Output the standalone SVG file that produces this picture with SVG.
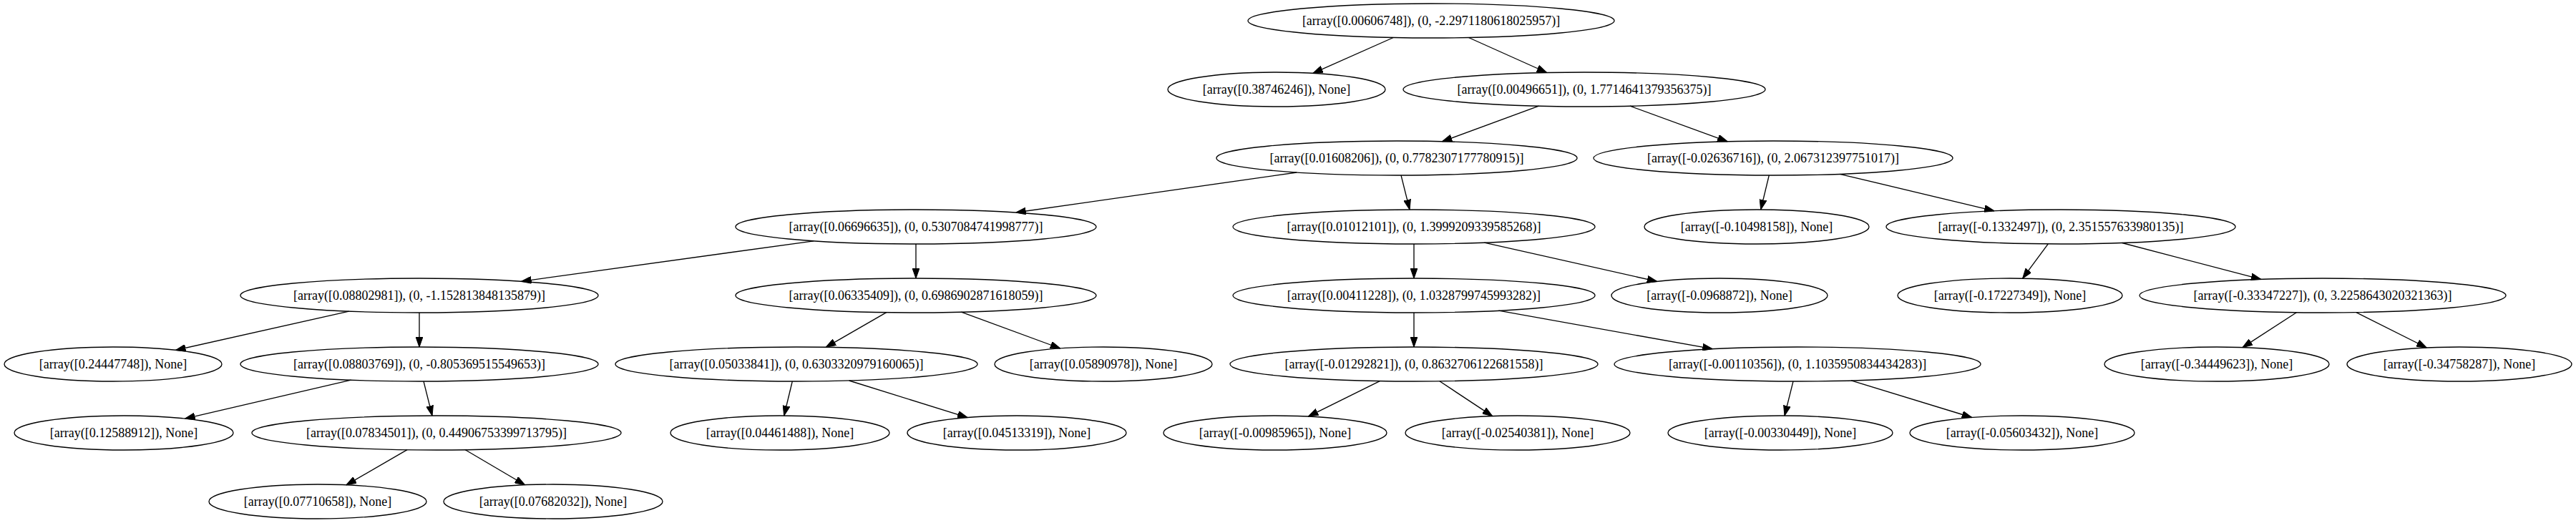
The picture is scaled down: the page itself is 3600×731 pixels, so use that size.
<svg xmlns="http://www.w3.org/2000/svg" width="3600" height="731" viewBox="0 0 3600 731">
<style>
.node ellipse{fill:none;stroke:#000;stroke-width:1.33}
.node text{font-family:"Liberation Serif","Times New Roman",serif;font-size:18px;text-anchor:middle;fill:#000}
.edges line{stroke:#000;stroke-width:1.33;marker-end:url(#arr)}
</style>
<defs>
<marker id="arr" markerUnits="userSpaceOnUse" markerWidth="14" markerHeight="10" viewBox="0 0 13.33 9.33" refX="13.33" refY="4.67" orient="auto">
<path d="M0,0 L13.33,4.67 L0,9.33 z" fill="#000" stroke="#000" stroke-width="1"/>
</marker>
</defs>
<rect width="3600" height="731" fill="#fff"/>
<g id="edges" class="edges">
<line x1="1947.2" y1="52.5" x2="1834.9" y2="102.4"/>
<line x1="2052.4" y1="52.5" x2="2161.7" y2="101.5"/>
<line x1="2150.6" y1="148.2" x2="2015.4" y2="197.8"/>
<line x1="2277.9" y1="148.2" x2="2414.2" y2="197.8"/>
<line x1="1812.2" y1="241.0" x2="1419.8" y2="297.0"/>
<line x1="1958.0" y1="245.0" x2="1970.0" y2="293.0"/>
<line x1="2472.3" y1="245.0" x2="2460.7" y2="293.0"/>
<line x1="2571.3" y1="243.3" x2="2787.1" y2="294.8"/>
<line x1="1137.1" y1="336.8" x2="728.5" y2="393.3"/>
<line x1="1280" y1="341" x2="1280" y2="389"/>
<line x1="1976" y1="341" x2="1976" y2="389"/>
<line x1="2074.4" y1="339.1" x2="2315.8" y2="393.4"/>
<line x1="2862.3" y1="340.9" x2="2826.6" y2="389.2"/>
<line x1="2965.7" y1="339.5" x2="3159.8" y2="390.4"/>
<line x1="487.6" y1="435.1" x2="245.5" y2="489.4"/>
<line x1="586" y1="437" x2="586" y2="485"/>
<line x1="1238.8" y1="436.7" x2="1154.2" y2="485.3"/>
<line x1="1343.4" y1="436.2" x2="1481.8" y2="487.0"/>
<line x1="1976" y1="437" x2="1976" y2="485"/>
<line x1="2094.4" y1="434.2" x2="2393.3" y2="487.7"/>
<line x1="3209.4" y1="436.8" x2="3134.0" y2="485.6"/>
<line x1="3292.9" y1="436.6" x2="3391.3" y2="486.0"/>
<line x1="490.6" y1="531.2" x2="258.6" y2="585.1"/>
<line x1="592.0" y1="533.0" x2="604.0" y2="581.0"/>
<line x1="1107.3" y1="533.0" x2="1095.7" y2="581.0"/>
<line x1="1186.7" y1="532.0" x2="1352.2" y2="583.6"/>
<line x1="1928.3" y1="532.6" x2="1828.3" y2="582.1"/>
<line x1="2011.9" y1="532.8" x2="2085.7" y2="581.6"/>
<line x1="2506.0" y1="533.0" x2="2494.0" y2="581.0"/>
<line x1="2587.1" y1="531.9" x2="2755.8" y2="583.5"/>
<line x1="569.0" y1="628.7" x2="484.0" y2="677.8"/>
<line x1="650.3" y1="628.7" x2="733.6" y2="677.8"/>
</g>
<g id="n0" class="node"><ellipse cx="2000" cy="29" rx="256" ry="24"/><text x="2000" y="35">[array([0.00606748]), (0, -2.2971180618025957)]</text></g>
<g id="n1" class="node"><ellipse cx="1784" cy="125" rx="152" ry="24"/><text x="1784" y="131">[array([0.38746246]), None]</text></g>
<g id="n2" class="node"><ellipse cx="2214" cy="125" rx="253" ry="24"/><text x="2214" y="131">[array([0.00496651]), (0, 1.7714641379356375)]</text></g>
<g id="n3" class="node"><ellipse cx="1952" cy="221" rx="252" ry="24"/><text x="1952" y="227">[array([0.01608206]), (0, 0.7782307177780915)]</text></g>
<g id="n4" class="node"><ellipse cx="2478" cy="221" rx="251" ry="24"/><text x="2478" y="227">[array([-0.02636716]), (0, 2.067312397751017)]</text></g>
<g id="n5" class="node"><ellipse cx="1280" cy="317" rx="252" ry="24"/><text x="1280" y="323">[array([0.06696635]), (0, 0.5307084741998777)]</text></g>
<g id="n6" class="node"><ellipse cx="1976" cy="317" rx="253" ry="24"/><text x="1976" y="323">[array([0.01012101]), (0, 1.3999209339585268)]</text></g>
<g id="n7" class="node"><ellipse cx="2455" cy="317" rx="157" ry="24"/><text x="2455" y="323">[array([-0.10498158]), None]</text></g>
<g id="n8" class="node"><ellipse cx="2880" cy="317" rx="244" ry="24"/><text x="2880" y="323">[array([-0.1332497]), (0, 2.351557633980135)]</text></g>
<g id="n9" class="node"><ellipse cx="586" cy="413" rx="250" ry="24"/><text x="586" y="419">[array([0.08802981]), (0, -1.152813848135879)]</text></g>
<g id="n10" class="node"><ellipse cx="1280" cy="413" rx="252" ry="24"/><text x="1280" y="419">[array([0.06335409]), (0, 0.6986902871618059)]</text></g>
<g id="n11" class="node"><ellipse cx="1976" cy="413" rx="253" ry="24"/><text x="1976" y="419">[array([0.00411228]), (0, 1.0328799745993282)]</text></g>
<g id="n12" class="node"><ellipse cx="2403" cy="413" rx="151" ry="24"/><text x="2403" y="419">[array([-0.0968872]), None]</text></g>
<g id="n13" class="node"><ellipse cx="2809" cy="413" rx="157" ry="24"/><text x="2809" y="419">[array([-0.17227349]), None]</text></g>
<g id="n14" class="node"><ellipse cx="3246" cy="413" rx="256" ry="24"/><text x="3246" y="419">[array([-0.33347227]), (0, 3.2258643020321363)]</text></g>
<g id="n15" class="node"><ellipse cx="158" cy="509" rx="152" ry="24"/><text x="158" y="515">[array([0.24447748]), None]</text></g>
<g id="n16" class="node"><ellipse cx="586" cy="509" rx="250" ry="24"/><text x="586" y="515">[array([0.08803769]), (0, -0.805369515549653)]</text></g>
<g id="n17" class="node"><ellipse cx="1113" cy="509" rx="253" ry="24"/><text x="1113" y="515">[array([0.05033841]), (0, 0.6303320979160065)]</text></g>
<g id="n18" class="node"><ellipse cx="1542" cy="509" rx="152" ry="24"/><text x="1542" y="515">[array([0.05890978]), None]</text></g>
<g id="n19" class="node"><ellipse cx="1976" cy="509" rx="257" ry="24"/><text x="1976" y="515">[array([-0.01292821]), (0, 0.8632706122681558)]</text></g>
<g id="n20" class="node"><ellipse cx="2512" cy="509" rx="256" ry="24"/><text x="2512" y="515">[array([-0.00110356]), (0, 1.1035950834434283)]</text></g>
<g id="n21" class="node"><ellipse cx="3098" cy="509" rx="157" ry="24"/><text x="3098" y="515">[array([-0.34449623]), None]</text></g>
<g id="n22" class="node"><ellipse cx="3437" cy="509" rx="157" ry="24"/><text x="3437" y="515">[array([-0.34758287]), None]</text></g>
<g id="n23" class="node"><ellipse cx="173" cy="605" rx="153" ry="24"/><text x="173" y="611">[array([0.12588912]), None]</text></g>
<g id="n24" class="node"><ellipse cx="610" cy="605" rx="258" ry="24"/><text x="610" y="611">[array([0.07834501]), (0, 0.44906753399713795)]</text></g>
<g id="n25" class="node"><ellipse cx="1090" cy="605" rx="153" ry="24"/><text x="1090" y="611">[array([0.04461488]), None]</text></g>
<g id="n26" class="node"><ellipse cx="1421" cy="605" rx="153" ry="24"/><text x="1421" y="611">[array([0.04513319]), None]</text></g>
<g id="n27" class="node"><ellipse cx="1782" cy="605" rx="156" ry="24"/><text x="1782" y="611">[array([-0.00985965]), None]</text></g>
<g id="n28" class="node"><ellipse cx="2121" cy="605" rx="157" ry="24"/><text x="2121" y="611">[array([-0.02540381]), None]</text></g>
<g id="n29" class="node"><ellipse cx="2488" cy="605" rx="157" ry="24"/><text x="2488" y="611">[array([-0.00330449]), None]</text></g>
<g id="n30" class="node"><ellipse cx="2826" cy="605" rx="157" ry="24"/><text x="2826" y="611">[array([-0.05603432]), None]</text></g>
<g id="n31" class="node"><ellipse cx="444" cy="701" rx="152" ry="24"/><text x="444" y="707">[array([0.07710658]), None]</text></g>
<g id="n32" class="node"><ellipse cx="773" cy="701" rx="153" ry="24"/><text x="773" y="707">[array([0.07682032]), None]</text></g>
</svg>
